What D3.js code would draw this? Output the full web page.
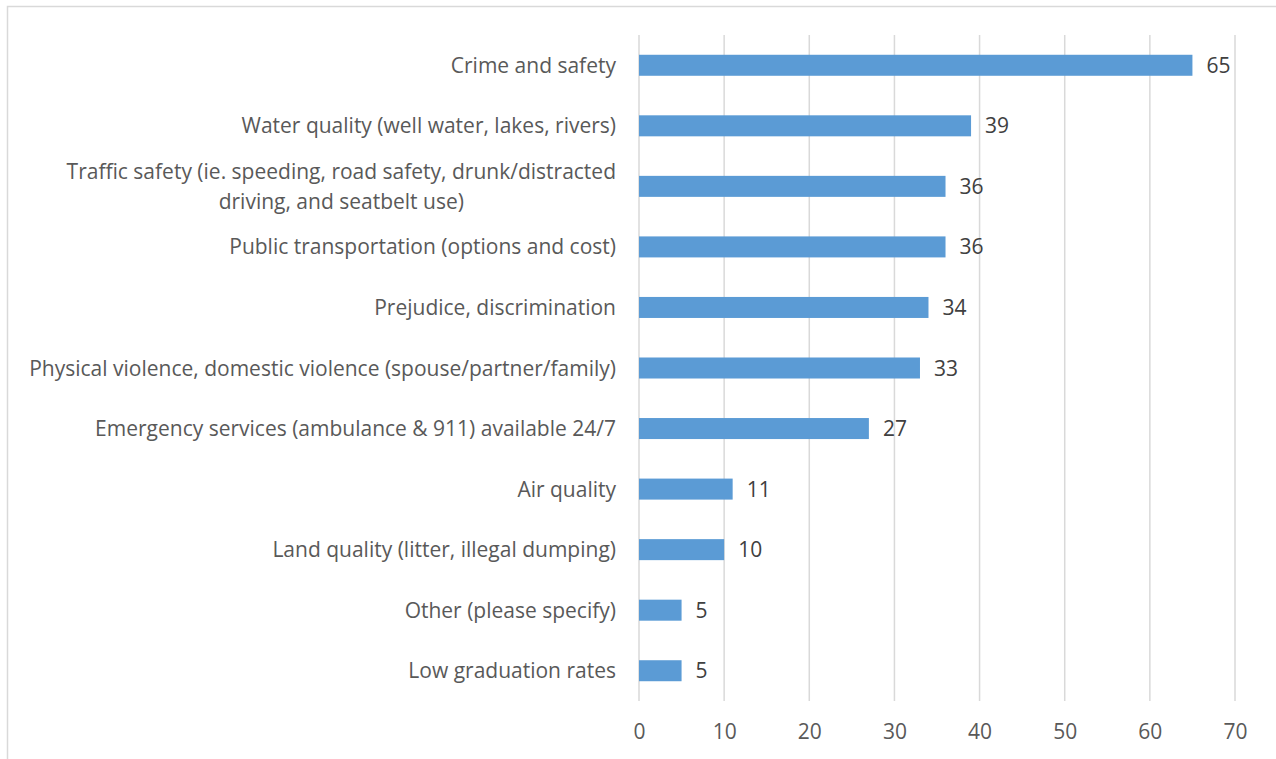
<!DOCTYPE html>
<html>
<head>
<meta charset="utf-8">
<script src="https://cdn.jsdelivr.net/npm/d3@7"></script>
<style>
  body { margin: 0; background: #fff; }
  svg text { font-family: "Open Sans", Lato, sans-serif; }
</style>
</head>
<body>
<div id="chart"></div>
<script>
var categories = [
    'Crime and safety',
    'Water quality (well water, lakes, rivers)',
    'Traffic safety (ie. speeding, road safety, drunk/distracted|driving, and seatbelt use)',
    'Public transportation (options and cost)',
    'Prejudice, discrimination',
    'Physical violence, domestic violence (spouse/partner/family)',
    'Emergency services (ambulance & 911) available 24/7',
    'Air quality',
    'Land quality (litter, illegal dumping)',
    'Other (please specify)',
    'Low graduation rates'
];
var values = [65, 39, 36, 36, 34, 33, 27, 11, 10, 5, 5];
var xTicks = [0, 10, 20, 30, 40, 50, 60, 70];

function renderBarChart(selector) {
    var width = 1276,
        height = 759,
        fontSize = 21;

    var svg = d3.select(selector).append('svg')
        .attr('width', width)
        .attr('height', height);

    // chart frame
    svg.append('rect')
        .attr('x', 7.5)
        .attr('y', 6.5)
        .attr('width', 1280)
        .attr('height', 770)
        .attr('fill', 'none')
        .attr('stroke', '#d9d9d9')
        .attr('stroke-width', 1.5);

    var x = d3.scaleLinear().domain([0, 70]).range([639, 1235]);
    var y = d3.scaleBand().domain(categories).range([35, 701])
        .paddingInner(0.653)
        .paddingOuter(0.3265);

    // vertical gridlines
    svg.selectAll('.grid')
        .data(xTicks)
        .enter()
        .append('line')
        .attr('class', 'grid')
        .attr('x1', function (d) { return x(d); })
        .attr('x2', function (d) { return x(d); })
        .attr('y1', 35)
        .attr('y2', 701)
        .attr('stroke', '#d9d9d9')
        .attr('stroke-width', 1.5);

    // x axis labels
    var xAxis = d3.axisBottom(x).tickValues(xTicks).tickSize(0).tickPadding(0);
    var ax = svg.append('g')
        .attr('transform', 'translate(0,' + 724 + ')')
        .call(xAxis);
    ax.select('.domain').remove();
    ax.selectAll('text')
        .attr('font-size', fontSize)
        .attr('fill', '#595959')
        .style('font-family', '"Open Sans", sans-serif');

    // bars
    svg.selectAll('.bar')
        .data(values)
        .enter()
        .append('rect')
        .attr('class', 'bar')
        .attr('x', x(0))
        .attr('y', function (d, i) { return y(categories[i]); })
        .attr('width', function (d) { return x(d) - x(0); })
        .attr('height', y.bandwidth())
        .attr('fill', '#5b9bd5');

    // value labels
    svg.selectAll('.val')
        .data(values)
        .enter()
        .append('text')
        .attr('class', 'val')
        .attr('x', function (d) { return x(d) + 14; })
        .attr('y', function (d, i) { return y(categories[i]) + y.bandwidth() / 2; })
        .attr('dy', '.36em')
        .attr('font-size', fontSize)
        .attr('fill', '#404040')
        .text(function (d) { return d; });

    // category labels (| marks a line break)
    var labels = svg.selectAll('.cat')
        .data(categories)
        .enter()
        .append('text')
        .attr('class', 'cat')
        .attr('font-size', fontSize)
        .attr('fill', '#595959')
        .attr('y', function (d) { return y(d) + y.bandwidth() / 2; });

    labels.each(function (d) {
        var lines = d.split('|');
        var t = d3.select(this);
        var cx = 616;
        if (lines.length === 1) {
            t.attr('x', cx).attr('text-anchor', 'end').attr('dy', '.36em').text(d);
        } else {
            // first line right-aligned, second centred under the first
            t.append('tspan').attr('x', cx).attr('text-anchor', 'end').attr('dy', '-0.35em').text(lines[0]);
            var w0 = t.select('tspan').node().getComputedTextLength();
            t.append('tspan').attr('x', cx - w0 / 2).attr('text-anchor', 'middle').attr('dy', '1.43em').text(lines[1]);
        }
    });
}

renderBarChart('#chart');
</script>
</body>
</html>
